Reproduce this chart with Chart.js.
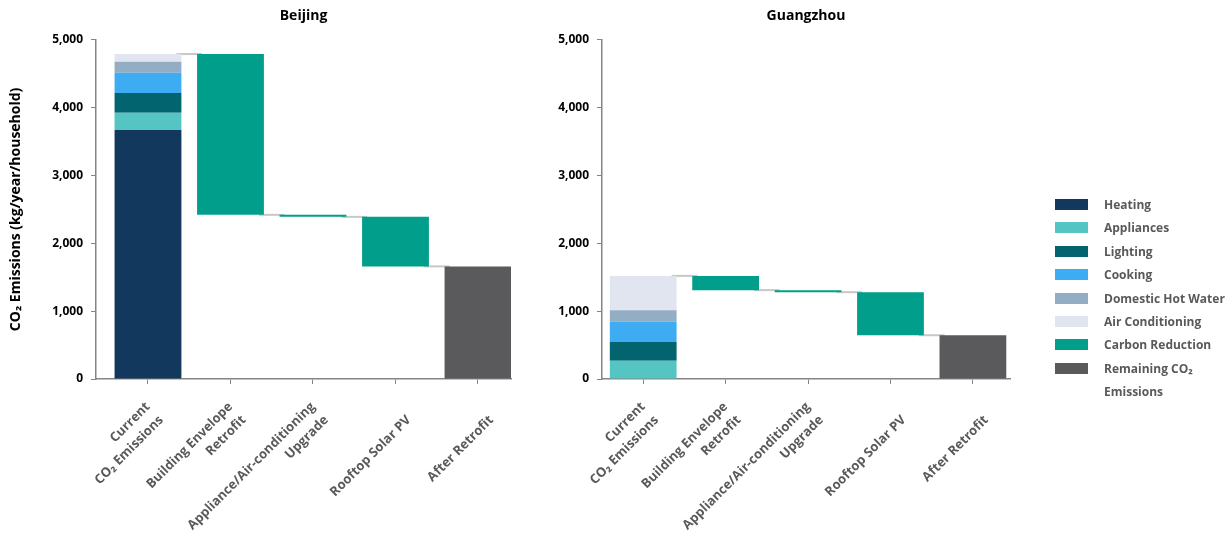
<!DOCTYPE html>
<html>
<head>
<meta charset="utf-8">
<script src="https://cdn.jsdelivr.net/npm/chart.js@4"></script>
<style>
  body { margin: 0; background: #fff; font-family: 'Open Sans', sans-serif; }
  #wrap { position: relative; width: 1227px; height: 544px; overflow: hidden; }
  canvas { position: absolute; top: 0; }
  #beijing-chart { left: 0; }
  #guangzhou-chart { left: 545px; }
  #legend { position: absolute; left: 1055px; top: 193px; }
  .item { display: flex; align-items: flex-start; }
  .swatch { width: 33px; height: 11px; margin-top: 6px; flex: none; }
  .name { margin-left: 16px; font-size: 12px; font-weight: 700; color: #595959; line-height: 23.4px; }
</style>
</head>
<body>
<div id="wrap">
  <canvas id="beijing-chart" width="630" height="544"></canvas>
  <canvas id="guangzhou-chart" width="534" height="544"></canvas>
  <div id="legend"></div>
</div>
<script>
const categories = [
    ['Current', 'CO₂ Emissions'],
    ['Building Envelope', 'Retrofit'],
    ['Appliance/Air-conditioning', 'Upgrade'],
    'Rooftop Solar PV',
    'After Retrofit'
];
const endUses = ['Heating', 'Appliances', 'Lighting', 'Cooking', 'Domestic Hot Water', 'Air Conditioning'];
const endUseColors = ['#12395d', '#54c5c3', '#02646f', '#3eacf2', '#93adc5', '#e0e5ef'];
const reductionColor = '#019e8c';
const remainingColor = '#5a5a5c';

// current emissions by end use, then the three retrofit steps, then what is left
const beijingCurrent = [3670, 255, 290, 300, 160, 115];
const beijingReductions = [2370, 30, 730];
const beijingRemaining = 1660;

const guangzhouCurrent = [0, 270, 275, 300, 170, 505];
const guangzhouReductions = [210, 30, 635];
const guangzhouRemaining = 645;

Chart.defaults.font.family = "'Open Sans', sans-serif";
Chart.defaults.animation = false;

// grey step lines between the bars
const connectorPlugin = {
    id: 'connectors',
    beforeDatasetsDraw(chart, args, opts) {
        const {ctx, scales: {x, y}} = chart;
        const half = chart.getDatasetMeta(0).data[0].width / 2;
        ctx.save();
        ctx.strokeStyle = '#c8c8c8';
        ctx.lineWidth = 2;
        opts.levels.forEach((v, i) => {
            const yy = y.getPixelForValue(v);
            ctx.beginPath();
            ctx.moveTo(x.getPixelForValue(i) + half - 5, yy);
            ctx.lineTo(x.getPixelForValue(i + 1) - half + 5, yy);
            ctx.stroke();
        });
        ctx.restore();
    }
};

// single line labels sit a line lower in the original (block is centred on the tick)
function tickLabel(v) {
    const label = categories[v];
    if (label === undefined) return '';
    return Array.isArray(label) ? label : ['', label];
}

function makeWaterfall(canvasId, title, current, reductions, remaining, layout) {
    const datasets = [];
    endUses.forEach((name, i) => {
        datasets.push({
            label: name,
            data: [{x: 0, y: current[i]}],
            backgroundColor: endUseColors[i]
        });
    });

    let level = current.reduce((a, b) => a + b, 0);
    const levels = [level];
    const steps = [];
    reductions.forEach((r, i) => {
        steps.push({x: i + 1, y: [level - r, level]});
        level = level - r;
        levels.push(level);
    });
    datasets.push({label: 'Carbon Reduction', data: steps, backgroundColor: reductionColor});
    datasets.push({label: 'Remaining CO₂ Emissions', data: [{x: 4, y: remaining}], backgroundColor: remainingColor});

    const axisGrey = '#858585';

    new Chart(document.getElementById(canvasId), {
        type: 'bar',
        data: {datasets: datasets},
        plugins: [connectorPlugin],
        options: {
            responsive: false,
            categoryPercentage: 1,
            barPercentage: 0.81,
            borderWidth: 0,
            layout: {padding: {right: layout.padRight}},
            plugins: {
                legend: {display: false},
                tooltip: {enabled: false},
                title: {
                    display: true,
                    fullSize: false,
                    text: title,
                    color: '#000',
                    font: {size: 14, weight: 'bold'},
                    padding: {top: 8, bottom: 15}
                },
                connectors: {levels: levels}
            },
            scales: {
                x: {
                    type: 'linear',
                    stacked: true,
                    offset: false,
                    min: layout.xMin,
                    max: layout.xMax,
                    afterFit: s => { s.height = 165; },
                    border: {color: axisGrey, width: 1.5},
                    grid: {offset: false, drawOnChartArea: false, tickLength: 5, color: axisGrey},
                    ticks: {
                        stepSize: 1,
                        includeBounds: false,
                        autoSkip: false,
                        minRotation: 45,
                        maxRotation: 45,
                        padding: 14,
                        color: '#595959',
                        font: {size: 13, weight: 'bold', lineHeight: 1.45},
                        callback: tickLabel
                    }
                },
                y: {
                    stacked: true,
                    min: 0,
                    max: 5000,
                    afterFit: s => { s.width = layout.yWidth; },
                    border: {color: axisGrey, width: 1.5},
                    grid: {drawOnChartArea: false, tickLength: 5, color: axisGrey},
                    ticks: {
                        stepSize: 1000,
                        padding: 8,
                        color: '#000',
                        font: {size: 12, weight: 'bold'},
                        callback: v => v.toLocaleString('en-US')
                    },
                    title: {
                        display: layout.yTitle,
                        text: 'CO₂ Emissions (kg/year/household)',
                        color: '#000',
                        font: {size: 14, weight: 'bold'},
                        padding: {top: 8, bottom: 0}
                    }
                }
            }
        }
    });
}

makeWaterfall('beijing-chart', 'Beijing', beijingCurrent, beijingReductions, beijingRemaining,
    {padRight: 119, xMin: -0.63, xMax: 4.4, yWidth: 96, yTitle: true});
makeWaterfall('guangzhou-chart', 'Guangzhou', guangzhouCurrent, guangzhouReductions, guangzhouRemaining,
    {padRight: 69, xMin: -0.5, xMax: 4.45, yWidth: 57, yTitle: false});

// legend on the right
const legendNames = endUses.concat(['Carbon Reduction', 'Remaining CO₂ Emissions']);
const legendColors = endUseColors.concat([reductionColor, remainingColor]);
const legendEl = document.getElementById('legend');
legendNames.forEach((name, i) => {
    const row = document.createElement('div');
    row.className = 'item';
    const sw = document.createElement('div');
    sw.className = 'swatch';
    sw.style.background = legendColors[i];
    const txt = document.createElement('div');
    txt.className = 'name';
    txt.innerHTML = name === 'Remaining CO₂ Emissions' ? 'Remaining CO₂<br>Emissions' : name;
    row.appendChild(sw);
    row.appendChild(txt);
    legendEl.appendChild(row);
});
</script>
</body>
</html>
